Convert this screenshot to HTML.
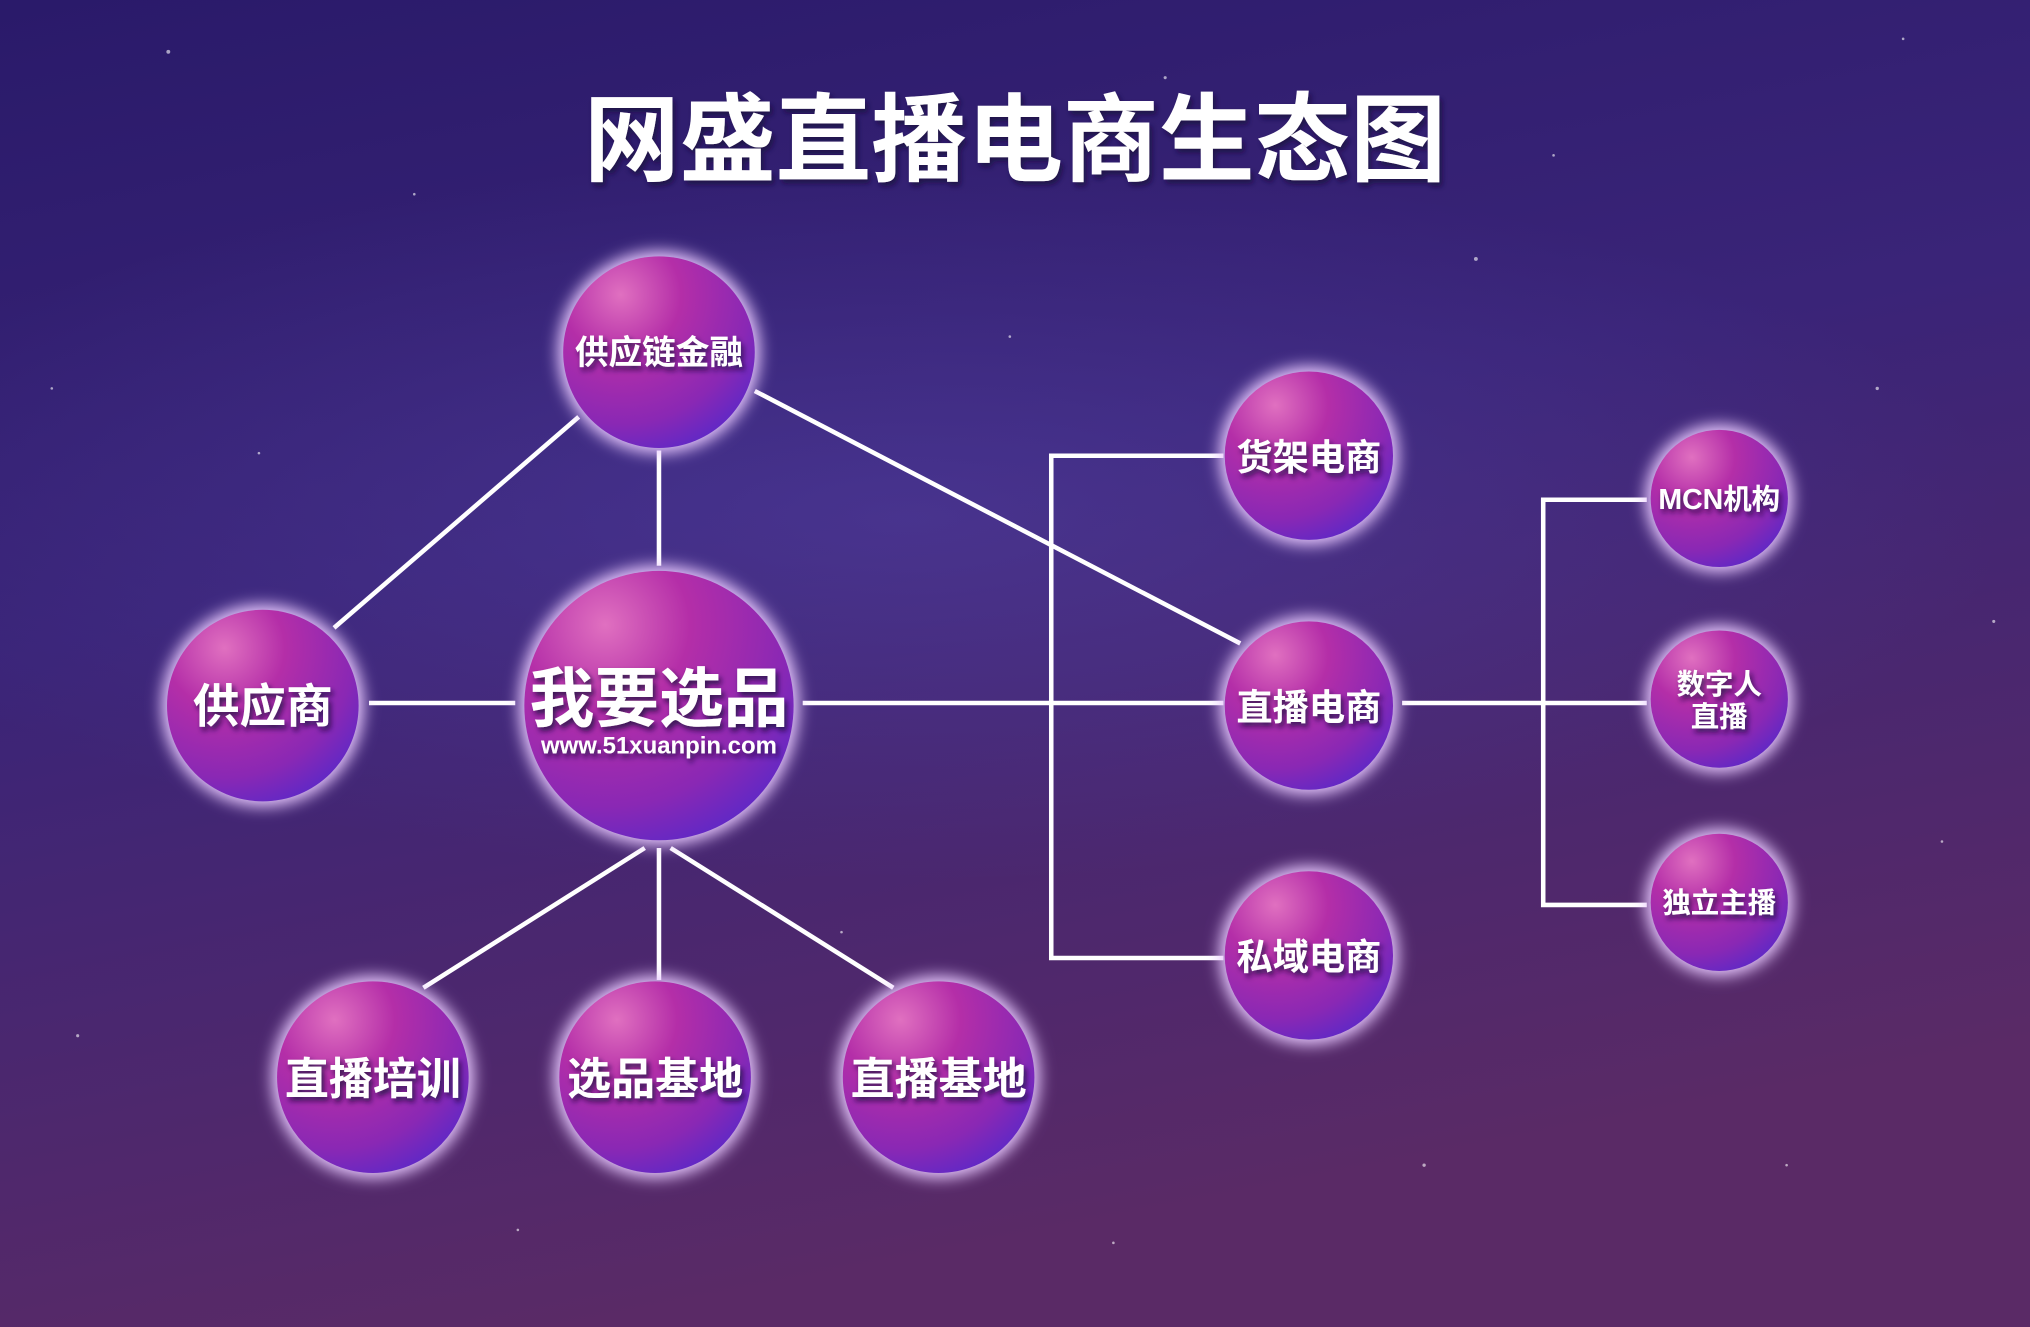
<!DOCTYPE html>
<html><head><meta charset="utf-8"><style>
html,body{margin:0;padding:0;}
body{width:2030px;height:1327px;overflow:hidden;}
svg{display:block;}
text{font-family:"Liberation Sans","Noto Sans CJK SC",sans-serif;font-weight:bold;fill:#fff;text-anchor:middle;}
</style></head><body>
<svg width="2030" height="1327" viewBox="0 0 1568 1025" preserveAspectRatio="none">
<defs>
<linearGradient id="bg" x1="0" y1="0" x2="0.3" y2="1">
<stop offset="0" stop-color="#2a1a6a"/>
<stop offset="0.45" stop-color="#3a2478"/>
<stop offset="1" stop-color="#5a2a66"/>
</linearGradient>
<radialGradient id="neb" cx="0.5" cy="0.5" r="0.5">
<stop offset="0" stop-color="#5a4ab0" stop-opacity="0.4"/>
<stop offset="0.6" stop-color="#5a4ab0" stop-opacity="0.15"/>
<stop offset="1" stop-color="#5a4ab0" stop-opacity="0"/>
</radialGradient>
<radialGradient id="ball" cx="0.3" cy="0.2" r="0.9">
<stop offset="0" stop-color="#e070c0"/>
<stop offset="0.35" stop-color="#b42ea8"/>
<stop offset="0.75" stop-color="#8a28b4"/>
<stop offset="1" stop-color="#5a28c8"/>
</radialGradient>
<filter id="glow" x="-50%" y="-50%" width="200%" height="200%">
<feGaussianBlur stdDeviation="6"/>
</filter>
<filter id="ts"><feDropShadow dx="2" dy="3" stdDeviation="2" flood-color="#1a0a40" flood-opacity="0.8"/></filter>
</defs>
<rect width="1568" height="1025" fill="url(#bg)"/>
<ellipse cx="700" cy="400" rx="850" ry="280" fill="url(#neb)"/>
<g fill="#fff" opacity="0.6">
<circle cx="130" cy="40" r="1.5"/><circle cx="320" cy="150" r="1"/><circle cx="900" cy="60" r="1.2"/><circle cx="1200" cy="120" r="1"/><circle cx="1450" cy="300" r="1.3"/><circle cx="1500" cy="650" r="1"/><circle cx="60" cy="800" r="1.2"/><circle cx="400" cy="950" r="1"/><circle cx="1100" cy="900" r="1.3"/><circle cx="1380" cy="900" r="1"/><circle cx="780" cy="260" r="1"/><circle cx="1140" cy="200" r="1.5"/><circle cx="650" cy="720" r="1"/><circle cx="200" cy="350" r="1"/><circle cx="1540" cy="480" r="1.2"/><circle cx="860" cy="960" r="1"/><circle cx="1470" cy="30" r="1"/><circle cx="40" cy="300" r="1"/>
</g>
<text x="784" y="134" font-size="74" filter="url(#ts)">网盛直播电商生态图</text>
<g stroke="#fff" stroke-width="3.5" fill="none">
<line x1="447" y1="322" x2="258" y2="485"/>
<line x1="509" y1="348" x2="509" y2="437"/>
<line x1="583" y1="302" x2="958" y2="497"/>
<line x1="285" y1="543" x2="398" y2="543"/>
<line x1="620" y1="543" x2="945" y2="543"/>
<polyline points="945,352 812,352 812,740 945,740"/>
<line x1="1083" y1="543" x2="1272" y2="543"/>
<polyline points="1272,386 1192,386 1192,699 1272,699"/>
<line x1="498" y1="655" x2="327" y2="763"/>
<line x1="509" y1="655" x2="509" y2="757"/>
<line x1="518" y1="655" x2="690" y2="763"/>
</g>
<g>
<g><circle cx="509" cy="272" r="78" fill="#e8c8ff" filter="url(#glow)"/><circle cx="509" cy="272" r="74" fill="url(#ball)"/></g>
<g><circle cx="509" cy="545" r="108" fill="#e8c8ff" filter="url(#glow)"/><circle cx="509" cy="545" r="104" fill="url(#ball)"/></g>
<g><circle cx="203" cy="545" r="78" fill="#e8c8ff" filter="url(#glow)"/><circle cx="203" cy="545" r="74" fill="url(#ball)"/></g>
<g><circle cx="288" cy="832" r="78" fill="#e8c8ff" filter="url(#glow)"/><circle cx="288" cy="832" r="74" fill="url(#ball)"/></g>
<g><circle cx="506" cy="832" r="78" fill="#e8c8ff" filter="url(#glow)"/><circle cx="506" cy="832" r="74" fill="url(#ball)"/></g>
<g><circle cx="725" cy="832" r="78" fill="#e8c8ff" filter="url(#glow)"/><circle cx="725" cy="832" r="74" fill="url(#ball)"/></g>
<g><circle cx="1011" cy="352" r="69" fill="#e8c8ff" filter="url(#glow)"/><circle cx="1011" cy="352" r="65" fill="url(#ball)"/></g>
<g><circle cx="1011" cy="545" r="69" fill="#e8c8ff" filter="url(#glow)"/><circle cx="1011" cy="545" r="65" fill="url(#ball)"/></g>
<g><circle cx="1011" cy="738" r="69" fill="#e8c8ff" filter="url(#glow)"/><circle cx="1011" cy="738" r="65" fill="url(#ball)"/></g>
<g><circle cx="1328" cy="385" r="57" fill="#e8c8ff" filter="url(#glow)"/><circle cx="1328" cy="385" r="53" fill="url(#ball)"/></g>
<g><circle cx="1328" cy="540" r="57" fill="#e8c8ff" filter="url(#glow)"/><circle cx="1328" cy="540" r="53" fill="url(#ball)"/></g>
<g><circle cx="1328" cy="697" r="57" fill="#e8c8ff" filter="url(#glow)"/><circle cx="1328" cy="697" r="53" fill="url(#ball)"/></g>
</g>
<g filter="url(#ts)">
<text x="509" y="281" font-size="26">供应链金融</text>
<text x="509" y="557" font-size="50">我要选品</text>
<text x="509" y="582" font-size="18.5">www.51xuanpin.com</text>
<text x="203" y="558" font-size="36">供应商</text>
<text x="288" y="845" font-size="34">直播培训</text>
<text x="506" y="845" font-size="34">选品基地</text>
<text x="725" y="845" font-size="34">直播基地</text>
<text x="1011" y="363" font-size="28">货架电商</text>
<text x="1011" y="556" font-size="28">直播电商</text>
<text x="1011" y="749" font-size="28">私域电商</text>
<text x="1328" y="393" font-size="22">MCN机构</text>
<text x="1328" y="536" font-size="22">数字人</text>
<text x="1328" y="561" font-size="22">直播</text>
<text x="1328" y="705" font-size="22">独立主播</text>
</g>
</svg>
</body></html>
